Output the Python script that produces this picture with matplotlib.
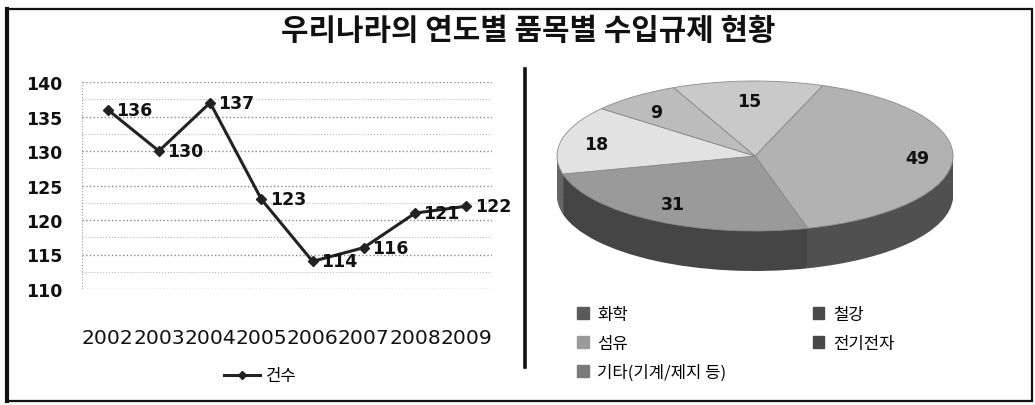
import numpy as np
import matplotlib
matplotlib.use("Agg")
from matplotlib import pyplot as plt
from matplotlib.lines import Line2D
from matplotlib.patches import Rectangle

plt.rcParams['font.family'] = ['Noto Sans CJK KR', 'DejaVu Sans']

# ---- data ----
years = ['2002', '2003', '2004', '2005', '2006', '2007', '2008', '2009']
cases = [136, 130, 137, 123, 114, 116, 121, 122]

items = ['화학', '철강', '섬유', '전기전자', '기타(기계/제지 등)']
item_counts = [49, 31, 18, 9, 15]
item_colors = ['#b2b2b2', '#9a9a9a', '#e2e2e2', '#bcbcbc', '#c9c9c9']
item_legend_colors = ['#5a5a5a', '#4a4a4a', '#9a9a9a', '#474747', '#7a7a7a']

title = '우리나라의 연도별 품목별 수입규제 현황'

W, H = 1035, 406
fig = plt.figure(figsize=(W / 100, H / 100), dpi=100)


def box(x0, y0, x1, y1):
	"""pixel box (top-left origin) -> figure fraction rect"""
	return [x0 / W, 1 - y1 / H, (x1 - x0) / W, (y1 - y0) / H]


# outer frame and divider
fig.patches.append(Rectangle((7 / W, 1 - 402 / H), 1025 / W, 392 / H, transform=fig.transFigure,
	fill=False, edgecolor='#111111', linewidth=1.6))
fig.add_artist(Line2D([7 / W, 7 / W], [1 - 402 / H, 1 - 10 / H], transform=fig.transFigure,
	color='#111111', linewidth=3))
fig.add_artist(Line2D([525 / W, 525 / W], [1 - 368 / H, 1 - 70 / H], transform=fig.transFigure,
	color='#111111', linewidth=2.6))

fig.text(0.51, 1 - 31 / H, title, ha='center', va='center', fontsize=21.5, fontweight='bold', color='#111111')

# ---- line chart ----
ax = fig.add_axes(box(82, 83, 492, 290))
x = np.arange(len(years))
ax.plot(x, cases, color='#222222', linewidth=2.2, marker='D', markersize=5, label='건수')
for xi, v in zip(x, cases):
	ax.annotate(str(v), (xi, v), xytext=(6, 0), textcoords='offset points', va='center', ha='left',
		fontsize=12.5, fontweight='bold', family='DejaVu Sans', color='#111111')

ax.set_xlim(-0.5, len(years) - 0.5)
ax.set_ylim(110, 140)
ax.set_yticks(range(110, 141, 5))
ax.set_yticks(np.arange(112.5, 140, 5), minor=True)
ax.set_xticks(x)
ax.set_xticklabels(years)
ax.tick_params(axis='both', which='both', length=0)
ax.tick_params(axis='x', pad=28, labelsize=14.6, labelcolor='#111111')
ax.tick_params(axis='y', pad=14, labelsize=12.5, labelcolor='#111111')
for lbl in ax.get_xticklabels() + ax.get_yticklabels():
	lbl.set_family('DejaVu Sans')
for lbl in ax.get_yticklabels():
	lbl.set_fontweight('bold')
ax.grid(axis='y', which='major', linestyle=':', color='#888888', linewidth=1)
ax.grid(axis='y', which='minor', linestyle=':', color='#bbbbbb', linewidth=0.8)
for s in ax.spines.values():
	s.set_visible(False)
ax.axvline(-0.5, linestyle=':', color='#999999', linewidth=0.8)
ax.set_axisbelow(True)

ax.legend(loc='center', bbox_to_anchor=(260 / W, 1 - 377 / H), bbox_transform=fig.transFigure,
	frameon=False, fontsize=12, handlelength=2.2, handletextpad=0.3, markerscale=0.8)

# ---- 3D-looking pie ----
cx, cy = 755, 157          # centre of top face in pixels
rx, ry = 198, 75           # semi axes of top face in pixels
depth = 40                 # side thickness in pixels
px0, px1, py0, py1 = 540, 970, 70, 300
pax = fig.add_axes(box(px0, py0, px1, py1))


def shade(c, f):
	rgb = np.array(matplotlib.colors.to_rgb(c))
	return tuple(rgb * f)


start = 70
n_layers = 24
for k in range(n_layers, 0, -1):
	off = -depth / ry * k / n_layers
	pax.pie(item_counts, colors=[shade(c, 0.45) for c in item_colors], startangle=start,
		counterclock=False, center=(0, off), wedgeprops=dict(linewidth=0))
wedges, _ = pax.pie(item_counts, colors=item_colors, startangle=start, counterclock=False,
	wedgeprops=dict(linewidth=0.6, edgecolor='#8a8a8a'))

# value labels inside the top face
total = sum(item_counts)
acc = 0
for v in item_counts:
	mid = np.deg2rad(start - (acc + v / 2) / total * 360)
	acc += v
	pax.text(0.82 * np.cos(mid), 0.74 * np.sin(mid), str(v), ha='center', va='center',
		fontsize=12.5, fontweight='bold', family='DejaVu Sans', color='#111111')

pax.set_aspect('auto')
pax.set_xlim(-(cx - px0) / rx, (px1 - cx) / rx)
pax.set_ylim(-(py1 - cy) / ry, (cy - py0) / ry)
pax.axis('off')

# legend laid out row by row: matplotlib fills columns first, so reorder
order = [0, 2, 4, 1, 3]
handles = [Rectangle((0, 0), 1, 1, color=item_legend_colors[i]) for i in order]
fig.legend(handles, [items[i] for i in order], loc='upper left', bbox_to_anchor=(562 / W, 1 - 292 / H), ncol=2,
	frameon=False, fontsize=12, handlelength=0.7, handleheight=0.7, handletextpad=0.5,
	columnspacing=5.2, labelspacing=0.7)

fig.savefig('out.png', dpi=100)
